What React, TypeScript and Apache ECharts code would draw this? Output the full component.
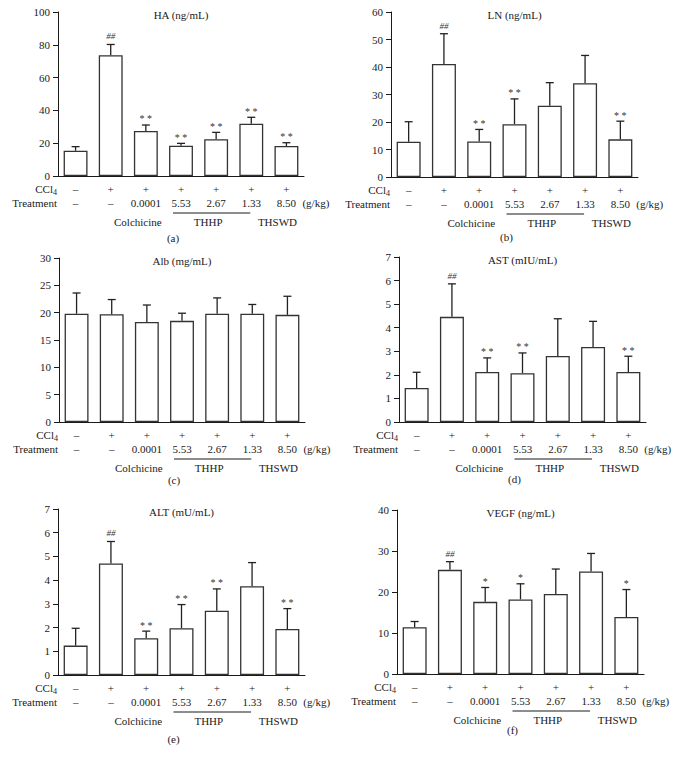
import React, { useEffect, useRef } from "react";
import * as echarts from "echarts";

// ---- Data ----
const categories = ["Normal", "Model", "Colchicine", "THHP 5.53", "THHP 2.67", "THHP 1.33", "THSWD"];
const ccl4Row = ["–", "+", "+", "+", "+", "+", "+"];
const treatmentRow = ["–", "–", "0.0001", "5.53", "2.67", "1.33", "8.50"];
const groupLabels = ["Colchicine", "THHP", "THSWD"];
const doseUnit = "(g/kg)";

const haMean = [15.4, 73.7, 27.4, 18.5, 22.4, 31.9, 18.3];
const haSd = [2.5, 6.5, 3.7, 1.4, 4.2, 3.9, 2.0];
const haSig = ["", "##", "* *", "* *", "* *", "* *", "* *"];

const lnMean = [12.8, 41.1, 12.9, 19.2, 25.9, 34.1, 13.7];
const lnSd = [7.3, 11.0, 4.4, 9.2, 8.4, 10.1, 6.6];
const lnSig = ["", "##", "* *", "* *", "", "", "* *"];

const albMean = [19.8, 19.7, 18.3, 18.5, 19.8, 19.8, 19.6];
const albSd = [3.8, 2.7, 3.1, 1.4, 2.9, 1.7, 3.4];
const albSig = ["", "", "", "", "", "", ""];

const astMean = [1.44, 4.46, 2.12, 2.07, 2.8, 3.18, 2.12];
const astSd = [0.67, 1.4, 0.6, 0.86, 1.58, 1.09, 0.67];
const astSig = ["", "##", "* *", "* *", "", "", "* *"];

const altMean = [1.24, 4.7, 1.55, 1.97, 2.71, 3.74, 1.94];
const altSd = [0.73, 0.93, 0.3, 1.0, 0.92, 1.0, 0.86];
const altSig = ["", "##", "* *", "* *", "* *", "", "* *"];

const vegfMean = [11.4, 25.4, 17.6, 18.2, 19.5, 25.0, 13.9];
const vegfSd = [1.4, 2.0, 3.5, 3.8, 6.1, 4.4, 6.7];
const vegfSig = ["", "##", "*", "*", "", "", "*"];

// ---- Layout ----
const FONT = "'Liberation Serif', 'DejaVu Serif', serif";
const INK = "#1a1a1a";

const panels = [
  { title: "HA (ng/mL)", letter: "(a)", mean: haMean, sd: haSd, sig: haSig, max: 100, interval: 20, left: 58, top: 12, width: 246, height: 164, letterDy: 62 },
  { title: "LN (ng/mL)", letter: "(b)", mean: lnMean, sd: lnSd, sig: lnSig, max: 60, interval: 10, left: 391, top: 12, width: 247, height: 165, letterDy: 60 },
  { title: "Alb (mg/mL)", letter: "(c)", mean: albMean, sd: albSd, sig: albSig, max: 30, interval: 5, left: 59, top: 258, width: 246, height: 164, letterDy: 58 },
  { title: "AST (mIU/mL)", letter: "(d)", mean: astMean, sd: astSd, sig: astSig, max: 7, interval: 1, left: 399, top: 257, width: 247, height: 165, letterDy: 57 },
  { title: "ALT (mU/mL)", letter: "(e)", mean: altMean, sd: altSd, sig: altSig, max: 7, interval: 1, left: 58, top: 509, width: 247, height: 166, letterDy: 64 },
  { title: "VEGF (ng/mL)", letter: "(f)", mean: vegfMean, sd: vegfSd, sig: vegfSig, max: 40, interval: 10, left: 397, top: 510, width: 247, height: 164, letterDy: 56 },
];

function buildOption() {
  const grid: any[] = [];
  const xAxis: any[] = [];
  const yAxis: any[] = [];
  const series: any[] = [];
  const graphic: any[] = [];

  panels.forEach((p, i) => {
    grid.push({ left: p.left, top: p.top, width: p.width, height: p.height });
    xAxis.push({
      type: "category",
      gridIndex: i,
      data: categories,
      axisLine: { lineStyle: { color: INK, width: 1 } },
      axisTick: { alignWithLabel: true, length: 5, lineStyle: { color: INK } },
      axisLabel: {
        interval: 0,
        margin: 6,
        lineHeight: 14,
        fontSize: 11,
        fontFamily: FONT,
        color: INK,
        formatter: (_v: string, idx: number) => `${ccl4Row[idx]}\n${treatmentRow[idx]}`,
      },
    });
    yAxis.push({
      type: "value",
      gridIndex: i,
      min: 0,
      max: p.max,
      interval: p.interval,
      splitLine: { show: false },
      axisLine: { show: true, lineStyle: { color: INK, width: 1 } },
      axisTick: { show: true, length: 5, lineStyle: { color: INK } },
      axisLabel: { fontSize: 11, fontFamily: FONT, color: INK, margin: 8 },
    });
    series.push({
      type: "bar",
      xAxisIndex: i,
      yAxisIndex: i,
      data: p.mean,
      barWidth: "68%",
      itemStyle: { color: "#ffffff", borderColor: "#333333", borderWidth: 1.3 },
    });
    const sigArr = p.sig;
    series.push({
      type: "custom",
      xAxisIndex: i,
      yAxisIndex: i,
      data: p.mean.map((m, k) => [k, m, m + p.sd[k]]),
      renderItem: (params: any, api: any) => {
        const x = api.value(0);
        const p0 = api.coord([x, api.value(1)]);
        const p1 = api.coord([x, api.value(2)]);
        const st = { stroke: "#222222", lineWidth: 1.3 };
        const children: any[] = [
          { type: "line", shape: { x1: p0[0], y1: p0[1], x2: p1[0], y2: p1[1] }, style: st },
          { type: "line", shape: { x1: p1[0] - 4, y1: p1[1], x2: p1[0] + 4, y2: p1[1] }, style: st },
        ];
        const s = sigArr[params.dataIndex];
        if (s) {
          children.push({
            type: "text",
            x: p1[0],
            y: p1[1] - (s === "##" ? 8 : 6),
            style: {
              text: s,
              align: "center",
              verticalAlign: "middle",
              fontSize: s === "##" ? 9 : 10,
              fontFamily: FONT,
              fontStyle: s === "##" ? "italic" : "normal",
              fill: "#333333",
            },
          });
        }
        return { type: "group", children };
      },
    });

    // annotations around the axis
    const band = p.width / categories.length;
    const catX = (k: number) => p.left + band * (k + 0.5);
    const zeroY = p.top + p.height;
    const txt = (text: string, x: number, y: number, align: string, size = 11) => ({
      type: "text",
      x,
      y,
      style: { text, align, verticalAlign: "middle", fontSize: size, fontFamily: FONT, fill: INK },
    });
    graphic.push(txt(p.title, p.left + p.width / 2, p.top + 3, "center"));
    graphic.push(txt("CCl", p.left - 5, zeroY + 13, "right"));
    graphic.push(txt("4", p.left - 5, zeroY + 16, "left", 8));
    graphic.push(txt("Treatment", p.left - 1, zeroY + 27, "right"));
    graphic.push(txt(doseUnit, catX(6) + 16, zeroY + 27, "left"));
    graphic.push(txt(groupLabels[0], catX(2) - 8, zeroY + 46, "center"));
    graphic.push(txt(groupLabels[1], catX(4) - 8, zeroY + 46, "center"));
    graphic.push(txt(groupLabels[2], catX(6) - 9, zeroY + 46, "center"));
    graphic.push({
      type: "line",
      shape: { x1: catX(3) - 8, y1: zeroY + 37, x2: catX(5) - 1, y2: zeroY + 37 },
      style: { stroke: INK, lineWidth: 1 },
    });
    graphic.push(txt(p.letter, p.left + p.width / 2 - 8, zeroY + p.letterDy, "center"));
  });

  return {
    animation: false,
    backgroundColor: "#ffffff",
    textStyle: { fontFamily: FONT },
    grid,
    xAxis,
    yAxis,
    series,
    graphic,
  };
}

export default function App() {
  const ref = useRef<HTMLDivElement>(null);
  useEffect(() => {
    if (!ref.current) return;
    const chart = echarts.init(ref.current, undefined, { renderer: "svg" });
    chart.setOption(buildOption() as any);
    return () => chart.dispose();
  }, []);
  return (
    <div
      ref={ref}
      style={{ position: "absolute", left: 0, top: 0, width: 678, height: 760, background: "#fff" }}
    />
  );
}
